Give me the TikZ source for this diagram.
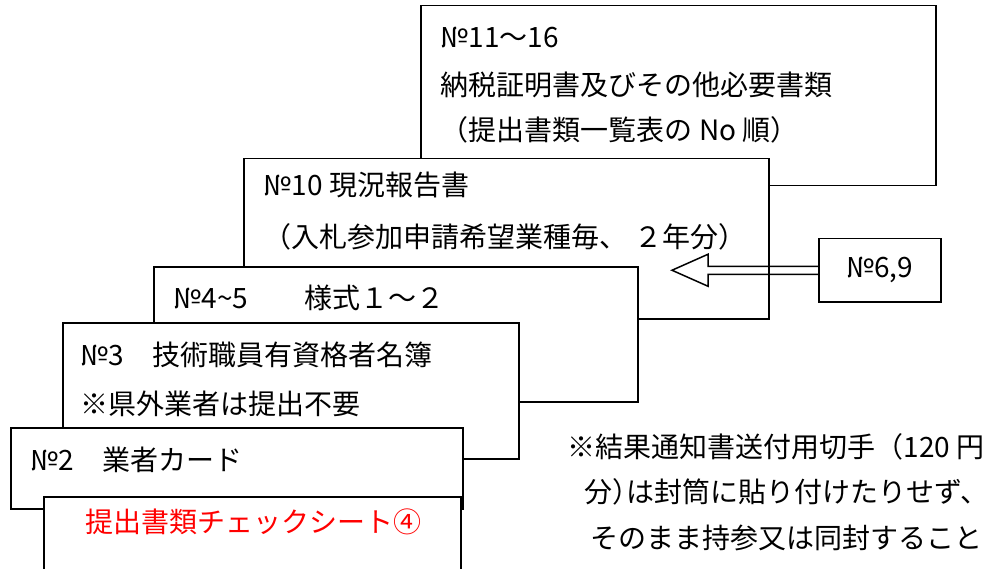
\documentclass[tikz,border=0pt]{standalone}
\usepackage{fontspec}
\setmainfont{Noto Sans CJK JP}
\usetikzlibrary{positioning,calc}
\tikzstyle{sheet}=[draw,fill=white,rectangle,inner sep=0pt,anchor=north west]
\tikzstyle{doc}=[anchor=west,inner sep=0pt,font=\fontsize{28}{32}\selectfont]

\begin{document}
\begin{tikzpicture}[x=1pt,y=-1pt,line width=1.5pt]
\clip (0,0) rectangle (987,569);
\node [sheet,minimum width=515pt,minimum height=180pt] (a) at (420,5) {};
\node [doc] (a1) at ($(a.north west)+(20,33)$) {№11～16};
\node [doc] (a2) at ($(a.north west)+(20,80)$) {納税証明書及びその他必要書類};
\node [doc] (a3) at ($(a.north west)+(20,125)$) {（提出書類一覧表の No 順）};

\node [sheet,minimum width=525pt,minimum height=160pt] (b) at (243,158) {};
\node [doc] (b1) at ($(b.north west)+(20,27)$) {№10 現況報告書};
\node [doc] (b2) at ($(b.north west)+(20,79)$) {（入札参加申請希望業種毎、 ２年分）};

% arrow from No.6,9
\node [sheet,minimum width=122pt,minimum height=63pt] (g) at (818,238) {};
\node [doc,anchor=center] (g1) at (g.center) {№6,9};
\coordinate (tip) at ($(g.west)+(-146,0)$);
\draw (g.west) ++(0,-4) -- ($(tip)+(36,-4)$) -- ($(tip)+(36,-16)$) -- (tip)
  -- ($(tip)+(36,16)$) -- ($(tip)+(36,4)$) -- ($(g.west)+(0,4)$);

\node [sheet,minimum width=484pt,minimum height=135pt] (c) at (153,266) {};
\node [doc] (c1) at ($(c.north west)+(20,32)$) {№4\textasciitilde5　　様式１～２};

\node [sheet,minimum width=456pt,minimum height=136pt] (d) at (62,322) {};
\node [doc] (d1) at ($(d.north west)+(18,33)$) {№3　技術職員有資格者名簿};
\node [doc] (d2) at ($(d.north west)+(18,82)$) {※県外業者は提出不要};

\node [sheet,minimum width=452pt,minimum height=81pt] (e) at (10,427) {};
\node [doc] (e1) at ($(e.north west)+(20,33)$) {№2　業者カード};

\node [sheet,minimum width=417pt,minimum height=110pt] (f) at (43,496) {};
\node [doc,text=red] (f1) at ($(f.north west)+(42,26)$) {提出書類チェックシート④};

% note
\node [doc] (n1) at (567,447) {※結果通知書送付用切手（120 円};
\node [doc] (n2) at (584,492) {分\makebox[0.5em][l]{）}は封筒に貼り付けたりせず、};
\node [doc] (n3) at (590,538) {そのまま持参又は同封すること};
\end{tikzpicture}
\end{document}
